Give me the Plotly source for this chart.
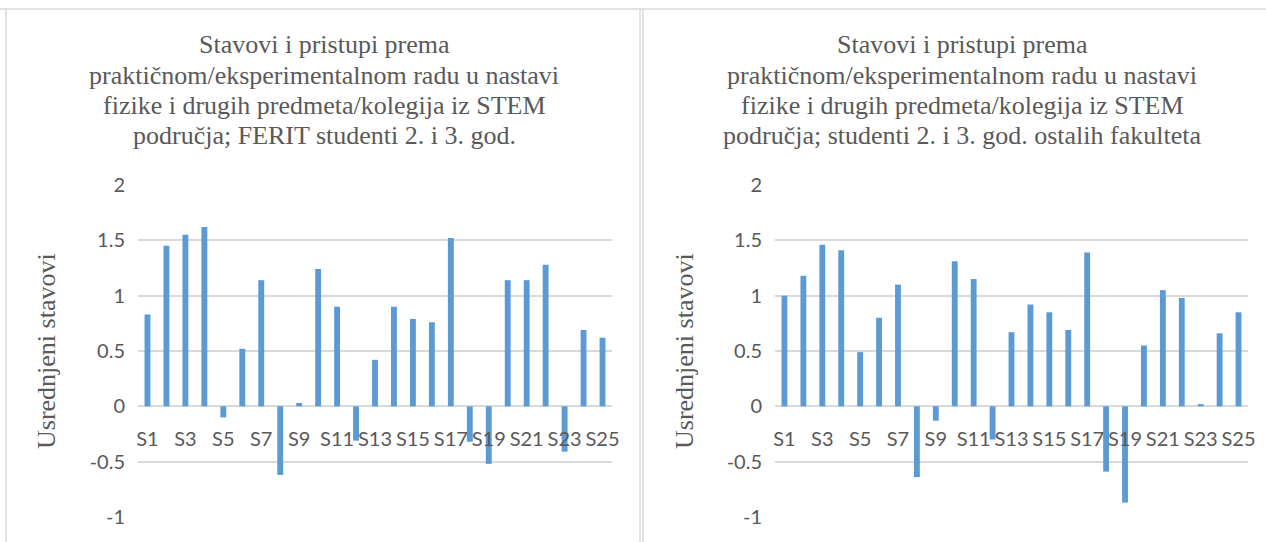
import plotly.graph_objects as go

W, H = 1266, 542

categories = [f"S{i}" for i in range(1, 26)]
tick_labels = categories[::2]

ferit_values = [0.83, 1.45, 1.55, 1.62, -0.10, 0.52, 1.14, -0.62, 0.03, 1.24,
                0.90, -0.31, 0.42, 0.90, 0.79, 0.76, 1.52, -0.32, -0.52, 1.14,
                1.14, 1.28, -0.41, 0.69, 0.62]
other_values = [1.00, 1.18, 1.46, 1.41, 0.49, 0.80, 1.10, -0.64, -0.13, 1.31,
                1.15, -0.30, 0.67, 0.92, 0.85, 0.69, 1.39, -0.59, -0.87, 0.55,
                1.05, 0.98, 0.02, 0.66, 0.85]

title_lines = [
    ["Stavovi i pristupi prema", "praktičnom/eksperimentalnom radu u nastavi",
     "fizike i drugih predmeta/kolegija iz STEM", "područja; FERIT studenti 2. i 3. god."],
    ["Stavovi i pristupi prema", "praktičnom/eksperimentalnom radu u nastavi",
     "fizike i drugih predmeta/kolegija iz STEM",
     "područja; studenti 2. i 3. god. ostalih fakulteta"],
]
y_title = "Usrednjeni stavovi"
y_ticks = [-1, -0.5, 0, 0.5, 1, 1.5, 2]

BAR = "#5B9BD5"
GRID = "#D9D9D9"
TXT = "#595959"
SERIF = "Liberation Serif, Times New Roman, serif"
SANS = "Lato, Carlito, Calibri, sans-serif"

y_range = [-1, 2]
# plot areas in pixels (left, right) and shared (top, bottom)
x_px = [(138, 612), (775, 1248)]
top_px, bot_px = 185, 517
y_dom = [(H - bot_px) / H, (H - top_px) / H]
zero_pos = y_dom[0] + (0 - y_range[0]) / (y_range[1] - y_range[0]) * (y_dom[1] - y_dom[0])

fig = go.Figure()
for i, vals in enumerate([ferit_values, other_values]):
    n = "" if i == 0 else "2"
    fig.add_trace(go.Bar(x=categories, y=vals, width=0.31, marker_color=BAR,
                         marker_line_width=0, xaxis=f"x{n}", yaxis=f"y{n}",
                         showlegend=False, hoverinfo="x+y"))
    fig.update_layout(**{
        f"xaxis{n}": dict(domain=[x_px[i][0] / W, x_px[i][1] / W], anchor="free",
                          position=zero_pos, type="category", range=[-0.5, 24.5],
                          tickmode="array", tickvals=tick_labels, ticks="outside",
                          ticklen=15, tickcolor="rgba(0,0,0,0)", showline=False,
                          showgrid=False, tickangle=0,
                          tickfont=dict(family=SANS, size=20, color=TXT)),
        f"yaxis{n}": dict(domain=list(y_dom), anchor=f"x{n}", range=y_range,
                          tickvals=y_ticks, ticktext=[f"{t:g}" for t in y_ticks],
                          showgrid=True, gridcolor=GRID, gridwidth=1.5,
                          zeroline=True, zerolinecolor=GRID, zerolinewidth=1.5,
                          showline=False, ticks="outside", ticklen=8,
                          tickcolor="rgba(0,0,0,0)",
                          tickfont=dict(family=SANS, size=20, color=TXT)),
    })
    cx = [324, 962][i]
    for k, line in enumerate(title_lines[i]):
        fig.add_annotation(x=cx / W, y=(H - (45 + 30.3 * k)) / H, xref="paper", yref="paper",
                           text=line, showarrow=False, xanchor="center", yanchor="middle",
                           font=dict(family=SERIF, size=26, color=TXT))
    ax = [46, 684][i]
    fig.add_annotation(x=ax / W, y=(H - 351) / H, xref="paper", yref="paper",
                       text=y_title, textangle=-90, showarrow=False,
                       xanchor="center", yanchor="middle",
                       font=dict(family=SERIF, size=26, color=TXT))

# chart frames
frame = dict(type="line", xref="paper", yref="paper", line=dict(color=GRID, width=1.5))
fig.add_shape(**frame, x0=0, x1=1, y0=(H - 9) / H, y1=(H - 9) / H)
for xp in (6, 640, 643):
    fig.add_shape(**frame, x0=xp / W, x1=xp / W, y0=0, y1=(H - 9) / H)

fig.update_layout(width=W, height=H,
                  margin=dict(l=0, r=0, t=0, b=0, autoexpand=False),
                  paper_bgcolor="white", plot_bgcolor="white", bargap=0.69)

fig.write_html("out.html")
